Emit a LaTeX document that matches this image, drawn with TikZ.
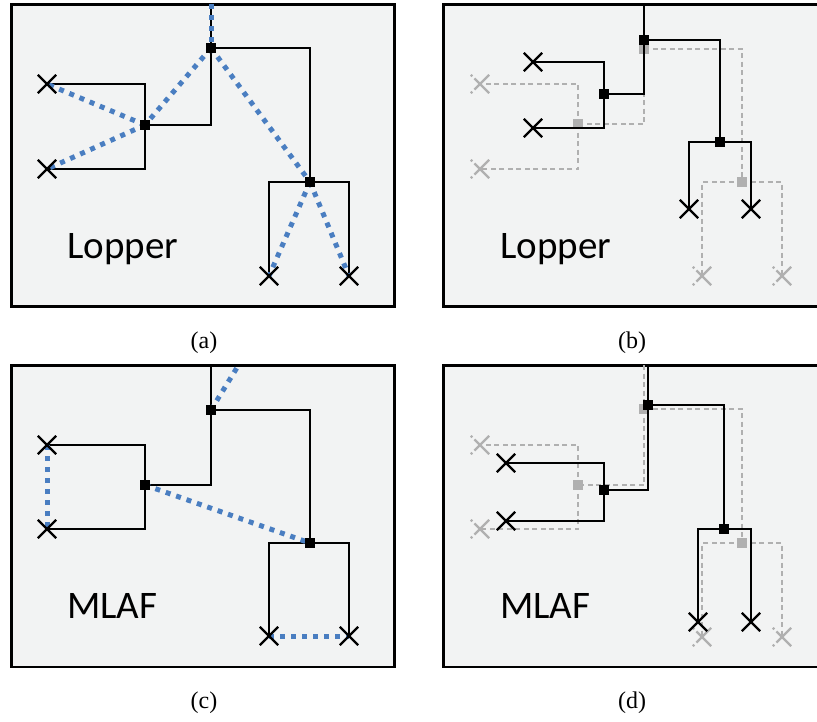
\documentclass[tikz,border=0pt]{standalone}
\usepackage{fontspec}
\setmainfont{Liberation Serif}
\newfontfamily\calib{Carlito}
\usetikzlibrary{shapes.misc}
\pgfdeclarelayer{boxes}
\pgfdeclarelayer{glines}
\pgfdeclarelayer{gnodes}
\pgfdeclarelayer{blines}
\pgfdeclarelayer{bluelayer}
\pgfsetlayers{boxes,glines,gnodes,blines,bluelayer,main}
\definecolor{panelfill}{RGB}{242,243,243}
\definecolor{treeblue}{RGB}{74,126,193}
\definecolor{ghost}{RGB}{176,176,176}
\tikzset{
  panelbox/.style={draw=black, line width=2.8pt, fill=panelfill},
  inner/.style={rectangle, fill=black, minimum size=10pt, inner sep=0pt},
  ginner/.style={rectangle, fill=ghost, minimum size=10pt, inner sep=0pt},
  leaf/.style={cross out, draw=black, line width=2.3pt, minimum size=16pt, inner sep=0pt},
  gleaf/.style={cross out, draw=ghost, line width=2.3pt, minimum size=16pt, inner sep=0pt, dash pattern=on 2pt off 3pt on 40pt},
  branch/.style={draw=black, line width=1.8pt},
  gbranch/.style={draw=ghost, line width=1.8pt, dash pattern=on 5pt off 3.5pt},
  blueline/.style={draw=treeblue, line width=5pt, dash pattern=on 5pt off 6pt},
  nametext/.style={font=\calib\fontsize{39}{39}\selectfont, anchor=base west, inner sep=0pt},
  capt/.style={font=\fontsize{24}{24}\selectfont, inner sep=0pt},
}
\begin{document}
\begin{tikzpicture}[x=1pt,y=-1pt]
\useasboundingbox (0,0) rectangle (817,721);
% panels
\begin{pgfonlayer}{boxes}
\draw[panelbox] (11.5,4.5) rectangle (394.7,306.7);
\draw[panelbox] (443.5,4.5) rectangle (840,306.7);
\draw[panelbox] (11.5,365.5) rectangle (394.7,667);
\draw[panelbox] (443.5,365.5) rectangle (840,667);
\end{pgfonlayer}
\node[nametext] (ta) at (67,258) {Lopper};
\node[nametext] (tb) at (500,258) {Lopper};
\node[nametext] (tc) at (67,618) {MLAF};
\node[nametext] (td) at (500,618) {MLAF};
\node[capt] (ca) at (204,343) {(a)};
\node[capt] (cb) at (632,343) {(b)};
\node[capt] (cc) at (204,703) {(c)};
\node[capt] (cd) at (632,703) {(d)};
% ---------- tree a ----------
\coordinate (aT) at (211,4);
\node[inner] (aR) at (211,48) {};
\node[inner] (aL) at (145,125) {};
\node[inner] (aRt) at (310,182) {};
\node[leaf] (al1) at (47,84) {};
\node[leaf] (al2) at (47,169) {};
\node[leaf] (al3) at (269,276) {};
\node[leaf] (al4) at (349,276) {};
\begin{pgfonlayer}{blines}
\draw[branch] (aT) -- (aR.center) (aR.center) |- (aL.center) (aR.center) -| (aRt.center)
  (aL.center) |- (al1.center) (aL.center) |- (al2.center)
  (aRt.center) -| (al3.center) (aRt.center) -| (al4.center);
\end{pgfonlayer}
\begin{pgfonlayer}{bluelayer}
\draw[blueline] (aT) -- (aR.center);
\draw[blueline] (aR.center) -- (aL.center);
\draw[blueline] (aL.center) -- (al1.center);
\draw[blueline] (aL.center) -- (al2.center);
\draw[blueline] (aR.center) -- (aRt.center);
\draw[blueline] (aRt.center) -- (al3.center);
\draw[blueline] (aRt.center) -- (al4.center);
\end{pgfonlayer}
% ---------- tree b gray ----------
\coordinate (gbT) at (644,4);
\begin{pgfonlayer}{gnodes}
\node[ginner] (gbR) at (644,49) {};
\node[ginner] (gbL) at (578,124) {};
\node[ginner] (gbRt) at (742,182) {};
\node[gleaf] (gbl1) at (480,84) {};
\node[gleaf] (gbl2) at (480,169) {};
\node[gleaf] (gbl3) at (702,276) {};
\node[gleaf] (gbl4) at (782,276) {};
\end{pgfonlayer}
\begin{pgfonlayer}{glines}
\draw[gbranch] (gbR.center) |- (gbL.center) (gbR.center) -| (gbRt.center)
  (gbL.center) |- (gbl1.center) (gbL.center) |- (gbl2.center)
  (gbRt.center) -| (gbl3.center) (gbRt.center) -| (gbl4.center);
\end{pgfonlayer}
% ---------- tree b black ----------
\coordinate (bT) at (644,4);
\node[inner] (bR) at (644,40) {};
\node[inner] (bL) at (604,94) {};
\node[inner] (bRt) at (720,142) {};
\node[leaf] (bl1) at (533,62) {};
\node[leaf] (bl2) at (533,128) {};
\node[leaf] (bl3) at (689,209) {};
\node[leaf] (bl4) at (751,209) {};
\begin{pgfonlayer}{blines}
\draw[branch] (bT) -- (bR.center) (bR.center) |- (bL.center) (bR.center) -| (bRt.center)
  (bL.center) |- (bl1.center) (bL.center) |- (bl2.center)
  (bRt.center) -| (bl3.center) (bRt.center) -| (bl4.center);
\end{pgfonlayer}
% ---------- tree c ----------
\coordinate (cT) at (211,365);
\coordinate (cE) at (238,366);
\node[inner] (cR) at (211,410) {};
\node[inner] (cL) at (145,485) {};
\node[inner] (cRt) at (310,543) {};
\node[leaf] (cl1) at (47,445) {};
\node[leaf] (cl2) at (47,529) {};
\node[leaf] (cl3) at (269,636) {};
\node[leaf] (cl4) at (349,636) {};
\begin{pgfonlayer}{blines}
\draw[branch] (cT) -- (cR.center) (cR.center) |- (cL.center) (cR.center) -| (cRt.center)
  (cL.center) |- (cl1.center) (cL.center) |- (cl2.center)
  (cRt.center) -| (cl3.center) (cRt.center) -| (cl4.center);
\end{pgfonlayer}
\begin{pgfonlayer}{bluelayer}
\draw[blueline] (cR.center) -- (cE);
\draw[blueline] (cL.center) -- (cRt.center);
\draw[blueline] (cl1.center) -- (cl2.center);
\draw[blueline] (cl3.center) -- (cl4.center);
\end{pgfonlayer}
% ---------- tree d gray ----------
\coordinate (gdT) at (644,365);
\begin{pgfonlayer}{gnodes}
\node[ginner] (gdR) at (644,409) {};
\node[ginner] (gdL) at (578,485) {};
\node[ginner] (gdRt) at (742,543) {};
\node[gleaf] (gdl1) at (480,445) {};
\node[gleaf] (gdl2) at (480,529) {};
\node[gleaf] (gdl3) at (702,637) {};
\node[gleaf] (gdl4) at (782,637) {};
\end{pgfonlayer}
\begin{pgfonlayer}{glines}
\draw[gbranch] (gdT) -- (gdR.center) (gdR.center) |- (gdL.center) (gdR.center) -| (gdRt.center)
  (gdL.center) |- (gdl1.center) (gdL.center) |- (gdl2.center)
  (gdRt.center) -| (gdl3.center) (gdRt.center) -| (gdl4.center);
\end{pgfonlayer}
% ---------- tree d black ----------
\coordinate (dT) at (648,365);
\node[inner] (dR) at (648,405) {};
\node[inner] (dL) at (604,490) {};
\node[inner] (dRt) at (724,529) {};
\node[leaf] (dl1) at (506,463) {};
\node[leaf] (dl2) at (506,521) {};
\node[leaf] (dl3) at (698,622) {};
\node[leaf] (dl4) at (751,622) {};
\begin{pgfonlayer}{blines}
\draw[branch] (dT) -- (dR.center) (dR.center) |- (dL.center) (dR.center) -| (dRt.center)
  (dL.center) |- (dl1.center) (dL.center) |- (dl2.center)
  (dRt.center) -| (dl3.center) (dRt.center) -| (dl4.center);
\end{pgfonlayer}
\end{tikzpicture}
\end{document}
